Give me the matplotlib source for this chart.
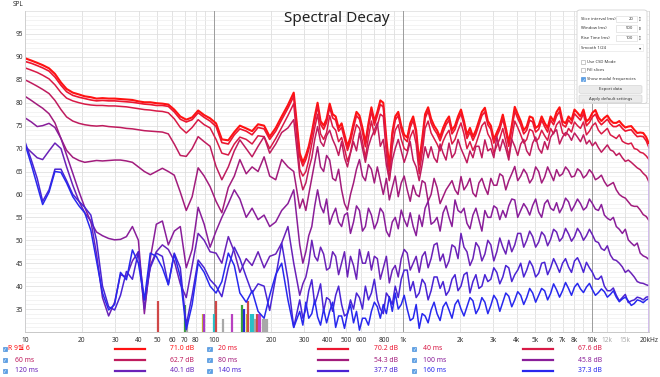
import matplotlib
matplotlib.use("Agg")
import matplotlib.pyplot as plt
from matplotlib.patches import Rectangle, FancyBboxPatch
from matplotlib.lines import Line2D
from matplotlib.ticker import NullLocator

plt.rcParams['font.family'] = ['Noto Sans', 'Noto Sans CJK KR', 'DejaVu Sans']

# ---------------- data ----------------
FREQ = [10.0, 10.8, 11.6, 12.4, 13.4, 14.4, 15.5, 16.6, 17.9, 19.3,
        20.7, 22.3, 23.9, 25.7, 27.7, 29.8, 32.0, 34.4, 37.0, 39.8,
        42.8, 46.0, 49.5, 53.3, 57.3, 61.6, 66.3, 71.3, 76.6, 82.4,
        88.7, 95.3, 102.5, 110, 119, 128, 137, 148, 159, 171,
        184, 197, 212, 228, 246, 264, 284, 306, 329, 353,
        380, 409, 440, 473, 508, 547, 588, 632, 680, 731,
        786, 846, 909, 978, 1052, 1131, 1217, 1308, 1407, 1513,
        1628, 1750, 1883, 2025, 2178, 2342, 2519, 2709, 2913, 3133,
        3370, 3624, 3898, 4192, 4509, 4849, 5215, 5609, 6032, 6488,
        6977, 7504, 8070, 8680, 9335, 10040, 10800, 11610, 12490, 13430,
        14450, 15540, 16710, 17970, 19330, 20000]

# extra in-between readings for the dense high-frequency ripple
FREQ_HI = [295, 317, 341, 366, 394, 424, 456, 490, 527, 567,
           610, 656, 705, 758, 816, 877, 943, 1014, 1091, 1173,
           1262, 1357, 1459, 1570, 1688, 1815, 1953, 2100, 2259, 2429,
           2612, 2809, 3021, 3249, 3495, 3759, 4042, 4348, 4676, 5029,
           5409, 5817, 6256, 6728, 7236, 7782, 8370, 9002, 9681, 10413,
           11198, 12042, 12952, 13930, 14985, 16115, 17329, 18637]

C0 = [89.7, 89.2, 88.7, 88.2, 87.5, 86.3, 84.4, 83.0, 82.2, 81.8,
      81.4, 81.2, 80.9, 81.0, 80.9, 80.9, 80.8, 80.7, 80.6, 80.3,
      80.1, 80.1, 79.9, 79.8, 79.6, 78.5, 77.0, 76.3, 76.8, 78.3,
      77.3, 76.6, 75.5, 72.0, 71.8, 73.6, 75.0, 74.4, 73.8, 75.3,
      75.0, 72.6, 74.5, 77.0, 79.5, 82.2, 69.0, 68.5, 73.5, 80.0,
      75.0, 79.8, 77.0, 75.5, 70.5, 75.5, 77.2, 71.3, 79.0, 78.0,
      80.0, 66.0, 77.0, 75.0, 72.4, 77.0, 67.0, 77.5, 76.5, 74.0,
      74.5, 77.0, 75.0, 78.5, 73.0, 72.6, 76.0, 78.9, 75.0, 73.5,
      77.4, 71.3, 79.1, 76.0, 74.8, 76.7, 75.0, 75.6, 77.0, 78.0,
      76.0, 77.0, 78.5, 77.0, 75.9, 77.8, 76.8, 76.7, 76.2, 75.6,
      75.2, 74.8, 74.1, 73.5, 72.5, 71.0]
C0_HI = [67.0, 70.5, 77.0, 76.0, 76.5, 77.5, 74.5, 73.0, 72.5, 78.0,
         74.5, 75.5, 76.0, 80.5, 72.0, 73.5, 78.0, 73.0, 75.5, 74.0,
         72.0, 79.0, 75.0, 72.5, 76.0, 74.0, 77.0, 76.0, 74.5, 74.0,
         78.0, 76.0, 72.0, 75.0, 74.5, 75.0, 77.5, 74.0, 77.0, 74.5,
         77.0, 74.5, 76.0, 79.0, 75.5, 76.2, 77.8, 78.5, 76.5, 78.4,
         76.0, 77.2, 75.6, 76.0, 74.6, 74.9, 73.4, 73.4]

C1 = [89.0, 88.6, 88.1, 87.6, 86.9, 85.6, 83.8, 82.4, 81.6, 81.2,
      80.9, 80.6, 80.4, 80.5, 80.4, 80.4, 80.3, 80.2, 80.1, 79.9,
      79.7, 79.6, 79.4, 79.4, 79.2, 78.0, 76.4, 75.8, 76.3, 77.8,
      76.8, 76.0, 74.8, 71.3, 71.0, 73.0, 74.3, 73.8, 73.0, 74.6,
      74.3, 72.0, 73.8, 76.3, 78.8, 81.4, 68.2, 67.6, 72.8, 79.2,
      74.2, 79.0, 76.2, 74.6, 69.6, 74.6, 76.4, 70.4, 78.2, 77.2,
      79.1, 65.2, 76.2, 74.2, 71.5, 76.2, 66.4, 76.6, 75.6, 73.2,
      73.6, 76.2, 74.2, 77.6, 72.2, 71.8, 75.2, 78.0, 74.2, 72.7,
      76.5, 70.5, 78.2, 75.2, 74.0, 75.8, 74.2, 74.8, 76.2, 77.1,
      75.2, 76.2, 77.6, 76.2, 75.0, 76.9, 76.0, 75.8, 75.4, 74.8,
      74.4, 74.0, 73.3, 72.7, 71.7, 70.2]
C1_HI = [66.2, 69.8, 76.2, 75.3, 75.7, 76.7, 73.8, 72.1, 71.6, 77.2,
         73.6, 74.7, 75.1, 79.6, 71.1, 72.6, 77.2, 72.2, 74.6, 73.2,
         71.1, 78.2, 74.2, 71.7, 75.2, 73.2, 76.2, 75.2, 73.6, 73.2,
         77.2, 75.2, 71.2, 74.2, 73.6, 74.2, 76.6, 73.2, 76.2, 73.6,
         76.2, 73.6, 75.2, 78.1, 74.7, 75.4, 76.9, 77.6, 75.7, 77.5,
         75.2, 76.4, 74.8, 75.2, 73.8, 74.1, 72.6, 72.6]

C2 = [87.6, 87.1, 86.6, 86.0, 85.2, 83.9, 82.2, 81.0, 80.4, 80.0,
      79.7, 79.5, 79.4, 79.4, 79.3, 79.3, 79.2, 79.1, 78.9, 78.7,
      78.5, 78.4, 78.2, 78.1, 77.8, 76.5, 74.6, 73.4, 74.6, 76.3,
      75.2, 74.5, 72.0, 69.0, 68.6, 71.0, 72.5, 72.0, 71.0, 72.8,
      72.6, 70.0, 72.2, 74.6, 77.2, 79.8, 65.5, 65.0, 71.0, 77.5,
      72.0, 77.2, 74.0, 72.4, 67.2, 72.6, 74.4, 68.0, 76.0, 75.0,
      77.0, 63.0, 74.0, 72.0, 69.5, 74.0, 64.5, 74.4, 73.4, 71.0,
      71.6, 74.0, 72.0, 75.6, 70.0, 69.6, 73.0, 75.8, 72.0, 70.6,
      74.4, 68.4, 76.0, 73.0, 72.0, 73.8, 72.2, 72.8, 74.4, 75.2,
      73.4, 74.4, 75.8, 74.4, 73.0, 75.0, 74.0, 73.8, 73.0, 72.2,
      71.6, 71.0, 70.0, 69.2, 68.4, 67.6]
C2_HI = [64.0, 67.5, 74.5, 73.2, 73.5, 74.8, 71.5, 70.0, 69.2, 75.2,
         71.5, 72.5, 73.0, 77.5, 69.0, 70.5, 75.2, 70.0, 72.5, 71.0,
         69.0, 76.0, 72.2, 69.5, 73.0, 71.0, 74.0, 73.2, 71.5, 71.0,
         75.0, 73.2, 69.0, 72.2, 71.6, 72.2, 74.6, 71.2, 74.2, 71.6,
         74.0, 71.8, 73.2, 76.0, 72.8, 73.6, 75.0, 75.8, 73.8, 75.6,
         73.2, 74.4, 72.6, 73.0, 71.2, 71.2, 69.8, 69.0]

C3 = [85.0, 84.3, 83.6, 82.9, 82.0, 80.5, 78.5, 76.9, 76.0, 75.5,
      75.2, 75.0, 74.9, 75.0, 74.8, 74.7, 74.6, 74.4, 74.3, 74.1,
      73.9, 73.8, 73.7, 73.6, 73.2, 71.0, 68.5, 68.3, 70.0, 72.6,
      71.5, 70.5, 66.1, 63.2, 66.0, 69.5, 71.9, 70.0, 68.2, 70.5,
      72.6, 69.0, 71.0, 73.5, 74.5, 76.3, 64.0, 62.5, 68.0, 74.8,
      70.5, 74.0, 70.5, 71.5, 66.0, 71.5, 73.4, 67.0, 72.5, 75.6,
      72.0, 63.2, 70.0, 69.5, 69.0, 67.5, 63.0, 70.4, 70.4, 67.0,
      69.0, 71.2, 69.0, 70.0, 66.9, 68.0, 70.5, 71.9, 70.0, 72.6,
      72.0, 67.5, 70.5, 71.0, 69.5, 71.2, 70.0, 71.5, 72.5, 74.1,
      72.5, 73.0, 73.4, 71.5, 71.0, 70.6, 70.2, 70.0, 69.7, 68.5,
      68.0, 67.5, 66.4, 65.4, 64.0, 62.7]
C3_HI = [61.0, 65.5, 72.0, 71.5, 72.8, 72.0, 68.5, 68.0, 69.0, 69.5,
         70.0, 70.5, 74.0, 70.5, 66.5, 67.5, 72.0, 67.0, 71.5, 66.0,
         66.5, 68.0, 68.0, 71.0, 67.5, 68.0, 72.0, 68.5, 69.5, 70.5,
         68.0, 69.5, 68.0, 69.5, 70.0, 72.0, 68.5, 72.0, 68.5, 72.5,
         69.0, 69.8, 73.5, 71.0, 73.5, 71.8, 72.5, 73.0, 71.8, 71.4,
         69.2, 70.8, 69.4, 69.0, 67.2, 67.0, 65.8, 64.6]

C4 = [81.4, 80.5, 79.6, 78.8, 77.6, 75.6, 72.2, 69.6, 68.1, 67.4,
      67.0, 67.2, 67.4, 67.3, 67.4, 67.5, 67.5, 67.3, 67.0, 66.0,
      65.0, 64.3, 65.0, 65.7, 65.0, 64.2, 60.5, 56.5, 59.5, 65.8,
      64.0, 61.7, 58.5, 56.0, 61.5, 64.0, 67.6, 64.5, 66.0, 65.0,
      68.2, 64.0, 63.2, 67.6, 66.0, 65.0, 57.0, 56.5, 63.5, 70.4,
      65.0, 67.5, 63.0, 61.0, 56.6, 62.5, 67.6, 63.0, 65.5, 66.0,
      60.0, 58.8, 64.0, 62.5, 61.0, 62.0, 59.5, 62.5, 60.0, 61.5,
      59.5, 62.0, 61.0, 63.9, 62.0, 60.3, 62.5, 61.5, 63.5, 62.0,
      64.0, 63.0, 66.1, 64.0, 64.5, 63.5, 65.0, 63.8, 64.5, 65.4,
      64.5, 65.2, 64.0, 65.0, 64.2, 64.6, 63.6, 62.8, 62.2, 61.0,
      59.5, 58.4, 57.4, 56.6, 55.2, 54.3]
C4_HI = [59.0, 60.0, 67.0, 66.0, 68.5, 63.5, 65.5, 58.0, 60.0, 65.5,
         64.0, 66.5, 62.5, 63.0, 63.5, 61.5, 59.5, 64.0, 58.5, 60.0,
         63.0, 58.5, 63.5, 58.0, 61.0, 63.0, 60.0, 61.0, 63.5, 59.5,
         63.5, 60.0, 62.0, 64.5, 61.0, 64.5, 63.0, 65.5, 62.5, 66.0,
         62.5, 66.0, 63.0, 64.0, 66.0, 63.8, 65.6, 63.6, 65.4, 63.2,
         64.2, 61.8, 62.6, 60.0, 59.2, 57.6, 57.4, 55.6]

C5 = [76.7, 75.8, 74.8, 75.0, 75.5, 74.6, 72.2, 68.6, 64.6, 60.6,
      57.2, 54.0, 51.8, 51.0, 50.4, 50.1, 50.2, 50.8, 53.0, 50.0,
      34.0, 46.0, 53.5, 54.2, 49.0, 52.0, 53.0, 44.0, 48.0, 57.2,
      53.5, 48.5, 52.0, 55.0, 58.0, 61.0, 59.0, 55.0, 57.0, 54.5,
      55.5, 53.0, 54.0, 56.5, 58.0, 61.0, 49.0, 47.5, 53.0, 61.0,
      56.0, 53.5, 57.0, 53.0, 56.0, 54.0, 56.5, 53.0, 55.5, 54.0,
      56.0, 50.8, 55.0, 56.6, 53.0, 53.0, 55.5, 57.0, 53.5, 55.0,
      56.0, 55.0, 58.8, 56.0, 53.7, 55.5, 54.5, 56.5, 55.0, 57.0,
      56.5, 57.5, 58.8, 56.5, 57.0, 57.6, 56.2, 58.0, 57.0, 58.2,
      57.2, 58.4, 57.6, 58.0, 57.2, 58.0, 56.5, 55.5, 54.4, 53.0,
      51.5, 50.1, 48.8, 47.2, 46.3, 45.8]
C5_HI = [45.0, 51.0, 57.5, 57.5, 59.0, 55.5, 54.0, 55.5, 51.5, 57.5,
         52.0, 57.0, 52.5, 57.0, 52.0, 54.0, 52.5, 54.5, 56.0, 51.0,
         53.0, 58.5, 54.0, 52.0, 57.5, 53.0, 56.5, 57.0, 52.5, 57.0,
         52.0, 55.0, 57.5, 54.5, 55.0, 59.0, 55.0, 58.0, 55.5, 59.0,
         55.0, 58.8, 56.5, 56.0, 59.2, 56.4, 59.0, 56.6, 59.0, 56.8,
         57.8, 54.8, 55.0, 52.4, 52.4, 49.4, 49.4, 46.6]

C6 = [70.5, 69.2, 68.0, 67.6, 69.5, 71.2, 70.0, 66.0, 62.0, 58.5,
      56.0, 54.2, 47.0, 37.5, 33.5, 36.5, 42.5, 42.0, 45.5, 47.5,
      35.0, 44.5, 47.5, 49.0, 48.0, 45.5, 40.5, 37.5, 44.5, 51.5,
      50.0, 47.5, 47.2, 45.0, 50.8, 47.5, 43.0, 46.0, 44.5, 47.5,
      44.0, 46.5, 47.0, 49.4, 53.0, 45.0, 38.0, 42.0, 50.0, 45.5,
      47.0, 44.0, 46.5, 45.0, 42.0, 44.5, 48.0, 45.0, 43.5, 46.0,
      44.0, 40.7, 44.5, 46.0, 47.2, 45.0, 43.0, 47.5, 46.0, 49.4,
      47.0, 45.5, 48.5, 51.5, 47.5, 46.0, 48.5, 47.0, 49.0, 47.5,
      48.5, 50.0, 49.0, 51.5, 50.0, 50.8, 49.6, 51.0, 50.2, 51.8,
      50.6, 51.4, 50.8, 51.6, 51.0, 51.2, 49.5, 47.8, 46.8, 45.6,
      44.2, 43.5, 42.0, 40.7, 40.3, 40.1]
C6_HI = [40.5, 45.0, 46.5, 48.5, 43.5, 47.5, 42.5, 47.5, 46.5, 41.5,
         45.0, 47.5, 46.5, 41.5, 46.5, 43.5, 42.0, 48.0, 43.5, 46.5,
         46.5, 44.0, 49.0, 45.5, 44.0, 49.0, 46.0, 48.5, 44.5, 49.5,
         45.5, 50.0, 45.5, 50.5, 47.0, 47.5, 51.5, 48.5, 52.0, 48.5,
         51.8, 48.8, 52.4, 49.8, 52.6, 49.8, 52.6, 50.0, 52.4, 49.8,
         48.2, 48.8, 45.8, 45.0, 43.0, 42.8, 41.0, 40.6]

C7 = [71.5, 67.5, 63.5, 58.5, 61.0, 65.5, 65.5, 63.0, 60.0, 58.5,
      57.2, 55.5, 50.0, 40.0, 35.5, 34.8, 38.0, 43.2, 41.5, 47.5,
      37.0, 44.0, 47.2, 46.5, 40.3, 47.2, 44.0, 31.5, 38.0, 45.7,
      44.0, 41.4, 40.0, 37.7, 44.0, 48.5, 46.0, 42.0, 38.5, 40.5,
      40.0, 34.7, 42.0, 49.4, 41.4, 31.0, 37.0, 35.0, 41.4, 38.0,
      34.5, 37.0, 38.0, 36.0, 34.0, 35.0, 37.5, 40.0, 38.5, 37.0,
      34.0, 37.5, 40.0, 41.5, 43.5, 41.0, 38.5, 40.5, 39.0, 42.0,
      41.0, 39.0, 42.5, 40.0, 43.0, 41.0, 39.5, 42.5, 41.5, 43.0,
      42.0, 44.0, 42.5, 45.0, 43.5, 44.3, 42.8, 45.2, 44.0, 44.6,
      45.0, 44.2, 45.5, 44.8, 45.2, 43.0, 41.5, 40.0, 39.0, 38.0,
      37.5, 36.4, 37.0, 37.4, 37.6, 37.7]
C7_HI = [33.0, 39.0, 36.0, 40.5, 37.5, 34.5, 40.0, 33.5, 37.0, 38.5,
         35.0, 37.0, 41.5, 35.0, 38.5, 36.0, 37.5, 43.5, 39.0, 37.5,
         41.5, 37.0, 42.0, 39.5, 38.0, 41.5, 39.0, 42.5, 38.5, 42.5,
         40.0, 41.0, 44.0, 40.5, 44.5, 41.0, 43.5, 42.0, 45.5, 42.0,
         45.0, 42.5, 46.0, 43.0, 46.0, 43.0, 46.2, 43.0, 44.0, 41.6,
         42.2, 39.0, 39.6, 36.8, 38.2, 36.8, 37.6, 37.0]

C8 = [71.0, 66.5, 62.0, 57.8, 60.5, 65.0, 64.8, 62.5, 59.5, 57.5,
      56.0, 52.2, 45.5, 38.5, 34.8, 36.0, 43.0, 41.4, 47.9, 45.0,
      37.0, 47.2, 46.5, 44.0, 40.3, 47.0, 42.0, 30.5, 36.0, 45.0,
      43.0, 40.0, 38.5, 41.0, 47.2, 44.5, 38.5, 36.5, 39.0, 34.5,
      33.0, 38.0, 42.5, 45.0, 37.0, 31.0, 34.5, 36.5, 34.0, 33.3,
      35.0, 34.5, 31.0, 33.5, 34.0, 32.0, 30.4, 33.0, 34.5, 35.5,
      36.0, 37.7, 38.5, 36.0, 35.0, 33.0, 30.8, 33.5, 34.8, 34.0,
      35.5, 34.8, 36.0, 35.0, 35.5, 36.8, 35.2, 36.5, 35.8, 37.0,
      36.5, 37.8, 37.0, 38.0, 37.5, 38.5, 38.0, 39.0, 38.4, 39.2,
      39.0, 39.5, 39.8, 39.4, 39.8, 39.2, 38.6, 38.8, 38.2, 37.6,
      37.2, 36.8, 36.2, 36.8, 37.0, 37.3]
C8_HI = [31.5, 33.0, 37.0, 31.5, 32.0, 36.5, 33.5, 30.8, 36.0, 34.5,
         33.0, 31.5, 36.5, 33.0, 34.0, 34.5, 35.0, 38.0, 32.5, 36.0,
         34.0, 32.0, 36.5, 32.5, 36.5, 33.0, 37.0, 33.5, 37.5, 34.0,
         37.5, 34.0, 38.0, 34.5, 38.5, 35.5, 38.8, 36.0, 39.5, 36.5,
         39.5, 37.0, 40.5, 37.6, 40.8, 38.0, 40.6, 38.6, 40.6, 38.0,
         39.4, 37.6, 39.0, 36.6, 37.6, 35.8, 37.0, 36.4]

SERIES_NAMES = ['R 9월 6', '20 ms', '40 ms', '60 ms', '80 ms', '100 ms',
                '120 ms', '140 ms', '160 ms']
SERIES_DB = [71.0, 70.2, 67.6, 62.7, 54.3, 45.8, 40.1, 37.7, 37.3]

MODAL_FREQ = [50.7, 70.2, 72.2, 86.9, 88.5, 100.4, 101.9, 112, 124, 140,
              144, 149, 151.6, 156, 160.5, 165, 168, 172, 175, 182, 186, 190]
MODAL_LEVEL = [36.8, 35.9, 32.8, 33.9, 33.9, 33.9, 36.8, 32.8, 33.9, 35.9,
               35.0, 33.9, 36.8, 33.9, 33.9, 32.8, 33.9, 33.9, 33.9, 32.8, 32.8, 32.8]

X_TICKS = [10, 20, 30, 40, 50, 60, 70, 80, 100, 200, 300, 400, 500, 600, 800,
           1000, 2000, 3000, 4000, 5000, 6000, 7000, 8000, 10000, 12000, 15000, 20000]
X_TICK_LABELS = ['10', '20', '30', '40', '50', '60', '70', '80', '100', '200', '300',
                 '400', '500', '600', '800', '1k', '2k', '3k', '4k', '5k', '6k', '7k',
                 '8k', '10k', '12k', '15k', '20kHz']
Y_TICKS = [35, 40, 45, 50, 55, 60, 65, 70, 75, 80, 85, 90, 95]

# ---------------- styles ----------------
COLORS = ['#ff1212', '#ec1630', '#d81a46', '#bf1c5e', '#a21c7c', '#891e9a',
          '#6a22b8', '#4a24d4', '#2828ee']
WIDTHS = [1.5, 1.2, 1.1, 1.1, 1.1, 1.1, 1.1, 1.1, 1.1]
MODAL_COLORS = ['#d04848', '#3aa03a', '#a8a8a8', '#c0b828', '#a838c8', '#28c0c8',
                '#d04848', '#a8a8a8', '#b840c0', '#3aa03a', '#2a2ad8', '#c0b828',
                '#d04848', '#28c0c8', '#28c0c8', '#a8a8a8', '#d04848', '#c040c8',
                '#c040c8', '#a8a8a8', '#a8a8a8', '#a8a8a8']

W, H = 660, 377
fig = plt.figure(figsize=(6.6, 3.77), dpi=100, facecolor='white')
ax = fig.add_axes([25 / W, 1 - 332 / H, 624 / W, 321 / H])


def fx(x):
    return x / W


def fy(y):
    return 1 - y / H


ax.set_xscale('log')
ax.set_xlim(10, 20000)
ax.set_ylim(30, 100)

# grid
grid_f = []
for dec in [10, 100, 1000, 10000]:
    for m in range(1, 10):
        grid_f.append(dec * m)
grid_f += [12000, 15000, 20000]
for g in grid_f:
    if g <= 20000:
        ax.axvline(g, color='#dedede', lw=0.6, zorder=0)
for g in [100, 1000, 10000]:
    ax.axvline(g, color='#9c9c9c', lw=0.7, zorder=0.1)
for v in range(30, 101):
    ax.axhline(v, color='#dcdcdc' if v % 5 == 0 else '#eeeeee', lw=0.5, zorder=0)

ax.set_xticks(X_TICKS)
ax.set_xticklabels(X_TICK_LABELS)
ax.xaxis.set_minor_locator(NullLocator())
ax.set_yticks(Y_TICKS)
ax.set_yticklabels([str(v) for v in Y_TICKS])
ax.yaxis.set_minor_locator(NullLocator())
ax.tick_params(axis='x', length=0, labelsize=4.7, pad=3.6, labelcolor='#333333')
ax.tick_params(axis='y', length=0, labelsize=4.7, pad=1.5, labelcolor='#333333')
for lbl in ax.get_xticklabels():
    if lbl.get_text() in ('12k', '15k'):
        lbl.set_color('#aaaaaa')

ax.spines['top'].set_visible(False)
ax.spines['left'].set_color('#d0d0d0')
ax.spines['bottom'].set_color('#c8c8c8')
ax.spines['right'].set_color('#d8d8d8')
for s in ['left', 'bottom', 'right']:
    ax.spines[s].set_linewidth(0.7)

# modal frequency bars
ax.vlines(MODAL_FREQ, 30, MODAL_LEVEL, colors=MODAL_COLORS, lw=1.6, zorder=1.5)

# decay slices (base readings merged with the in-between readings)
SERIES = [(C0, C0_HI), (C1, C1_HI), (C2, C2_HI), (C3, C3_HI), (C4, C4_HI),
          (C5, C5_HI), (C6, C6_HI), (C7, C7_HI), (C8, C8_HI)]
for (base, hi), col, lw in zip(SERIES, COLORS, WIDTHS):
    pts = sorted(zip(FREQ + FREQ_HI, base + hi))
    ax.plot([p[0] for p in pts], [p[1] for p in pts], color=col, lw=lw, zorder=2,
            solid_joinstyle='round')

ax.vlines([FREQ[0]], 30, C0[0], color='#b8acf0', lw=1.2, zorder=2.5)
ax.vlines([FREQ[-1]], 30, C0[-1], color='#ccb2ea', lw=1.2, zorder=2.5)

# title & axis label
fig.text(fx(337), fy(18), 'Spectral Decay', ha='center', va='center',
         fontsize=11, color='#222222')
fig.text(fx(13), fy(4.5), 'SPL', ha='left', va='center', fontsize=4.7, color='#333333')


def checkbox(cx, cy, checked=True, size=4.4):
    r = Rectangle((fx(cx - size / 2), fy(cy + size / 2)), size / W, size / H,
                  transform=fig.transFigure,
                  facecolor='#5aa0e6' if checked else 'white',
                  edgecolor='#3a84d6' if checked else '#a0a0a0', lw=0.4, zorder=6)
    fig.add_artist(r)
    if checked:
        fig.text(fx(cx), fy(cy), '✓', color='white', fontsize=3.4, ha='center',
                 va='center', family='DejaVu Sans', zorder=7)


# legend
LEG_COLS = [(4.7, 15, 115, 145, 194), (209.5, 218, 318, 348, 398),
            (414, 423, 523, 553, 602)]
LEG_ROWS = [349, 360, 371]
for i, (name, db, col) in enumerate(zip(SERIES_NAMES, SERIES_DB, COLORS)):
    r, c = divmod(i, 3)
    cbx, lx, l0, l1, dbx = LEG_COLS[c]
    y = LEG_ROWS[r]
    checkbox(cbx, y)
    tx = 8.2 if i == 0 else lx
    fig.text(fx(tx), fy(y), name, color=col, fontsize=4.9, ha='left', va='center')
    fig.add_artist(Line2D([fx(l0), fx(l1)], [fy(y), fy(y)], color=col, lw=1.6,
                          transform=fig.transFigure))
    fig.text(fx(dbx), fy(y), f'{db:.1f} dB', color=col, fontsize=4.9,
             ha='right', va='center')

# settings panel
panel = FancyBboxPatch((fx(577), fy(103.5)), 70 / W, 93.5 / H,
                       boxstyle='round,pad=0,rounding_size=0.005',
                       transform=fig.transFigure, facecolor='white',
                       edgecolor='#d2d2d2', lw=0.6, zorder=5)
fig.add_artist(panel)

PFS = 3.0
for label, val, yy in [('Slice interval (ms)', '20', 19), ('Window (ms)', '500', 28.3),
                       ('Rise Time (ms)', '100', 37.7)]:
    fig.text(fx(581), fy(yy), label, fontsize=PFS, ha='left', va='center',
             color='#333333', zorder=7)
    box = Rectangle((fx(616), fy(yy + 3.2)), 21 / W, 6.4 / H, transform=fig.transFigure,
                    facecolor='white', edgecolor='#d6d6d6', lw=0.4, zorder=6)
    fig.add_artist(box)
    fig.text(fx(633.5), fy(yy), val, fontsize=PFS, ha='right', va='center',
             color='#333333', zorder=7)
    fig.text(fx(639.5), fy(yy - 1.3), '▲', fontsize=1.7, ha='center', va='center',
             color='#444444', family='DejaVu Sans', zorder=7)
    fig.text(fx(639.5), fy(yy + 1.3), '▼', fontsize=1.7, ha='center', va='center',
             color='#444444', family='DejaVu Sans', zorder=7)

dd = Rectangle((fx(579), fy(51)), 64 / W, 6.6 / H, transform=fig.transFigure,
               facecolor='white', edgecolor='#e2e2e2', lw=0.4, zorder=6)
fig.add_artist(dd)
fig.text(fx(581), fy(47.7), 'Smooth 1/24', fontsize=PFS, ha='left', va='center',
         color='#333333', zorder=7)
fig.text(fx(640), fy(47.7), '▾', fontsize=3.2, ha='center', va='center',
         color='#444444', family='DejaVu Sans', zorder=7)

for label, yy, chk in [('Use CSD Mode', 61.7, False), ('Fill slices', 70.3, False),
                       ('Show modal frequencies', 79.3, True)]:
    checkbox(583, yy, checked=chk, size=3.6)
    fig.text(fx(587), fy(yy), label, fontsize=PFS, ha='left', va='center',
             color='#333333', zorder=7)

for label, y0, y1 in [('Export data', 85.5, 93.3), ('Apply default settings', 95.0, 102.7)]:
    b = FancyBboxPatch((fx(579), fy(y1)), 63 / W, (y1 - y0) / H,
                       boxstyle='round,pad=0,rounding_size=0.003',
                       transform=fig.transFigure, facecolor='#ebebeb',
                       edgecolor='#d0d0d0', lw=0.4, zorder=6)
    fig.add_artist(b)
    fig.text(fx(610.5), fy((y0 + y1) / 2), label, fontsize=PFS, ha='center',
             va='center', color='#333333', zorder=7)

fig.savefig('out.png', dpi=100, facecolor='white')
